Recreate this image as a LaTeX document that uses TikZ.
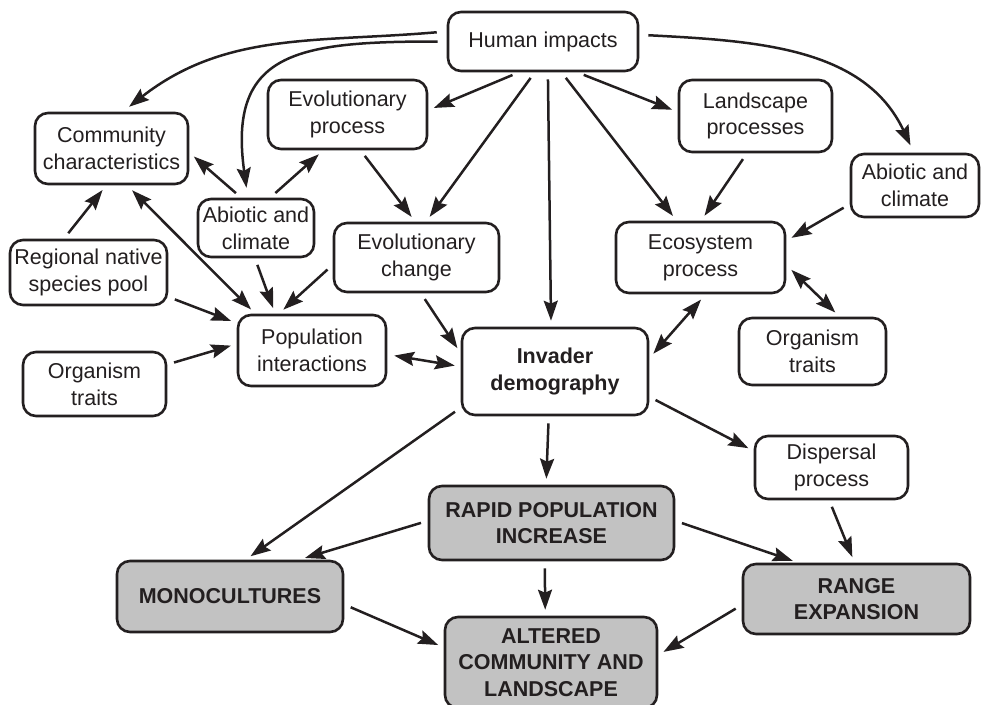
\documentclass[tikz,border=0pt]{standalone}
\usepackage{fontspec}
\setmainfont{Liberation Sans}
\usetikzlibrary{arrows.meta}
\definecolor{ink}{HTML}{231F20}
\definecolor{shade}{HTML}{C2C2C2}
\begin{document}
\begin{tikzpicture}[x=1pt,y=-1pt,
  box/.style={draw=ink, line width=2.6pt, rounded corners=13pt, fill=white,
    align=center, inner sep=0pt, text=ink,
    font=\fontsize{21.5}{26.8}\selectfont},
  keybox/.style={box, fill=shade, font=\fontsize{21.5}{26.8}\selectfont\bfseries},
  link/.style={draw=ink, line width=2.5pt, -{Stealth[length=20pt,width=14pt,inset=3pt]},
    shorten <=7pt, shorten >=6pt},
  both/.style={link, {Stealth[length=20pt,width=14pt,inset=3pt]}-{Stealth[length=20pt,width=14pt,inset=3pt]}}
]
\useasboundingbox (0,0) rectangle (981,704);

% boxes
\node[box, minimum width=190pt, minimum height=59pt] (human) at (543,41.5) {Human impacts};
\node[box, minimum width=153pt, minimum height=71pt] (comm) at (111.5,148.5) {Community\\characteristics};
\node[box, minimum width=159pt, minimum height=69pt] (evop) at (347.5,114.5) {Evolutionary\\process};
\node[box, minimum width=116pt, minimum height=58pt] (abl) at (256,228) {Abiotic and\\climate};
\node[box, minimum width=165pt, minimum height=69pt] (evoc) at (416.5,257.5) {Evolutionary\\change};
\node[box, minimum width=157pt, minimum height=65pt] (pool) at (88.5,272.5) {Regional native\\species pool};
\node[box, minimum width=148pt, minimum height=71pt] (popint) at (312,350.5) {Population\\interactions};
\node[box, minimum width=143pt, minimum height=64pt] (orgl) at (94.5,384) {Organism\\traits};
\node[box, minimum width=153pt, minimum height=72pt] (land) at (755.5,116) {Landscape\\processes};
\node[box, minimum width=128pt, minimum height=63pt] (abr) at (915,185.5) {Abiotic and\\climate};
\node[box, minimum width=169pt, minimum height=71pt] (eco) at (700.5,257.5) {Ecosystem\\process};
\node[box, minimum width=147pt, minimum height=67pt] (orgr) at (812.5,351.5) {Organism\\traits};
\node[box, minimum width=186pt, minimum height=87pt, font=\fontsize{21.5}{26.8}\selectfont\bfseries] (inv) at (555,371.5) {Invader\\demography};
\node[box, minimum width=153pt, minimum height=63pt] (disp) at (831.5,467.5) {Dispersal\\process};
\node[keybox, minimum width=245pt, minimum height=74pt] (rpi) at (551.5,523) {RAPID POPULATION\\INCREASE};
\node[keybox, minimum width=226pt, minimum height=71pt] (mono) at (230,596.5) {MONOCULTURES};
\node[keybox, minimum width=227pt, minimum height=70pt] (range) at (856.5,599) {RANGE\\EXPANSION};
\node[keybox, minimum width=212pt, minimum height=91pt] (alt) at (551,662.5) {ALTERED\\COMMUNITY AND\\LANDSCAPE};

% connectors from human impacts
\draw[link, shorten <=10pt, shorten >=8pt] (human.174) to[out=185, in=38] (comm.73);
\draw[link, shorten <=9pt, shorten >=10pt] (human.180) to[out=180, in=98, looseness=1.5] (abl.105);
\draw[link, shorten <=9pt, shorten >=8pt] (human.4) to[out=-3, in=115] (abr.92);
\draw[link] (human.232) -- (evop.3);
\draw[link] (human.255) -- (evoc.75);
\draw[link] (human.279) -- (inv.95);
\draw[link] (human.301) -- (eco.123);
\draw[link] (human.318) -- (land.177);

% left-hand cluster
\draw[link] (abl.116) -- (comm.357);
\draw[link] (abl.65) -- (evop.236);
\draw[link] (evop.290) -- (evoc.92);
\draw[link] (pool.126) -- (comm.262);
\draw[both] (comm.293) -- (popint.147);
\draw[link] (abl.268) -- (popint.135);
\draw[link] (evoc.185) -- (popint.132);
\draw[link] (pool.343) -- (popint.160);
\draw[link] (orgl.15) -- (popint.175);
\draw[both] (popint.357) -- (inv.177);
\draw[link] (evoc.277) -- (inv.169);

% right-hand cluster
\draw[link] (land.257) -- (eco.89);
\draw[link] (abr.196) -- (eco.11);
\draw[both] (eco.355) -- (orgr.52);
\draw[both] (eco.278) -- (inv.8);

% outcomes
\draw[link] (inv.201) -- (mono.67);
\draw[link] (inv.262) -- (rpi.98);
\draw[link] (inv.345) -- (disp.168);
\draw[link] (rpi.179) -- (mono.28);
\draw[link] (rpi.1) -- (range.148);
\draw[link] (rpi.260) -- (alt.97);
\draw[link] (disp.266) -- (range.93);
\draw[link] (mono.356) -- (alt.172);
\draw[link] (range.183) -- (alt.4);
\end{tikzpicture}
\end{document}
